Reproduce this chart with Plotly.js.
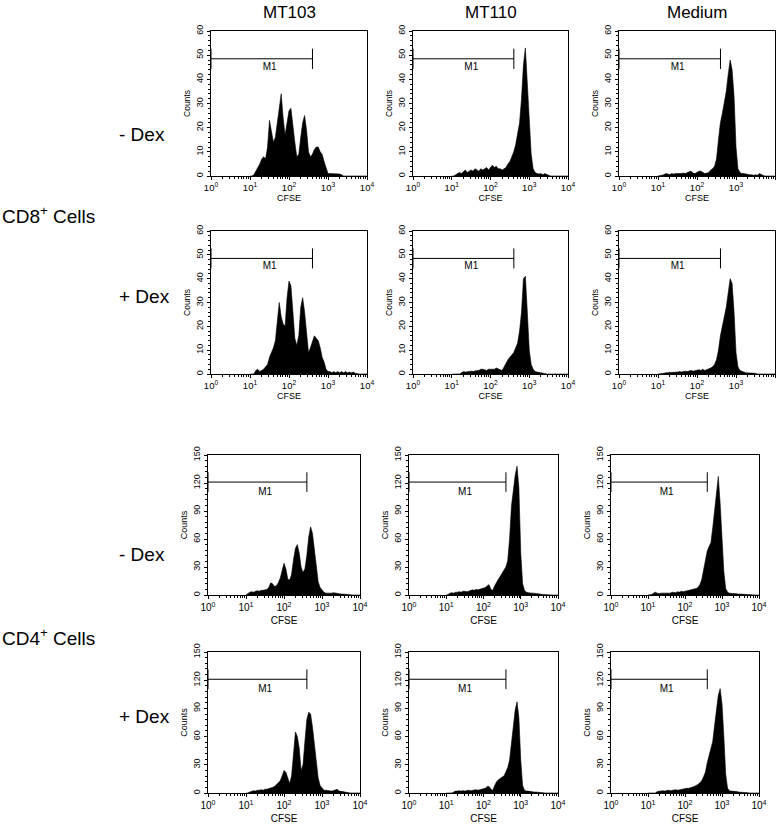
<!DOCTYPE html>
<html>
<head>
<meta charset="utf-8">
<script src="https://cdn.plot.ly/plotly-3.0.1.min.js"></script>
<style>html,body{margin:0;padding:0;background:#fff;}#chart{width:782px;height:827px;}</style>
</head>
<body>
<div id="chart"></div>
<script>
// ---------- DATA ----------
// CFSE channel values (log-spaced bins, 10^1 .. 10^4)
const cfse = [10, 11.2, 12.6, 14.1, 15.8, 17.8, 20.0, 22.4, 25.1, 28.2,
  31.6, 35.5, 39.8, 44.7, 50.1, 56.2, 63.1, 70.8, 79.4, 89.1,
  100, 112, 126, 141, 158, 178, 200, 224, 251, 282,
  316, 355, 398, 447, 501, 562, 631, 708, 794, 891,
  1000, 1122, 1259, 1413, 1585, 1778, 1995, 2239, 2512, 2818,
  3162, 3548, 3981, 4467, 5012, 5623, 6310, 7079, 7943, 8913,
  10000];

const columnNames = ['MT103', 'MT110', 'Medium'];
const rowNames = ['- Dex', '+ Dex', '- Dex', '+ Dex'];
const groupNames = ['CD8<sup>+</sup> Cells', 'CD4<sup>+</sup> Cells'];
const xTickVals = [1, 10, 100, 1000, 10000];
const xTickText = ['10<sup>0</sup>', '10<sup>1</sup>', '10<sup>2</sup>', '10<sup>3</sup>', '10<sup>4</sup>'];

// CD8+ cells, - Dex
const cd8MinusMT103 = [0,0,0.5,2,3,5,7,8,7,12,
  23,18,14,16,22,30,34,24,17,22,
  27,28,22,14,8,9,16,22,25,19,
  10,8,9,11,12,12,10,9,6,3,
  1,1,1,1,1,1,0.8,0.5,0,0,
  0,0,0,0,0,0,0,0,0,0,
  0];
const cd8MinusMT110 = [0,0,0.5,1,1.5,1,2,2.5,1.5,2,
  2.5,2,3,2.5,2,3,2.5,3,3.5,2.5,
  3.5,4.5,3.5,4,3,3,2.5,3,3.5,5,
  6,8,10,13,17,22,32,46,53,40,
  22,9,3,1.5,1,0.8,1,0.5,1,0.5,
  0.3,0,0,0,0,0,0,0,0,0,
  0];
const cd8MinusMedium = [0,0,0.3,0.5,1,0.8,0.6,1,0.8,1,
  0.9,1,1,1.2,1,1.5,1.8,2,1.2,1,
  1.5,2,2,1.5,1,1.2,1.5,2.5,3,4,
  7,15,22,26,30,35,42,48,44,33,
  12,3,1.5,1,1,0.8,0.5,0.5,0.5,0.3,
  0.5,0.3,1,0.5,0.2,0,0,0,0,0,
  0];
// CD8+ cells, + Dex
const cd8PlusMT103 = [0,0,0,1.5,2,1,1.5,2,3,4,
  7,9,11,14,22,30,24,21,20,32,
  39,37,26,15,12,16,28,32,26,18,
  9,11,14,16,15,14,11,7,5,2,
  1,1,0.5,1,0.5,1,0.5,1,0.5,1,
  0.5,0.8,0.5,0.8,0.3,0,0,0,0,0,
  0];
const cd8PlusMT110 = [0,0,0,0,0,0.5,1,0.8,1,1,
  1.2,1,1.3,1.5,1.5,2,2,1.8,1.5,2,
  2,2.2,2,2.5,2.3,1.8,1.5,3,5,6,
  7,8,9,11,13,18,26,40,41,26,
  10,4,2,1,0.8,0.5,0.5,0.3,0.2,0,
  0,0,0,0,0,0,0,0,0,0,
  0];
const cd8PlusMedium = [0,0,0,0.3,0.5,0.5,0.8,0.5,0.8,0.6,
  0.8,1,0.8,1,1.2,1,1.2,1.5,1.2,1.5,
  1.5,1.8,1.5,2,1.5,1.8,2,2.5,3,4,
  6,10,16,20,24,28,34,40,38,26,
  9,3,1.5,1,0.8,0.5,0.5,0.3,0.5,0.3,
  0.3,0,0,0,0,0,0,0,0,0,
  0];
// CD4+ cells, - Dex
const cd4MinusMT103 = [0,2,3,3.5,3,4,4.5,4,5,5,
  5.5,6,8,13,12,9,10,13,18,27,
  34,28,17,16,22,38,50,54,45,30,
  24,28,42,62,73,66,48,30,14,8,
  5,3,2,2,1.5,2,2.5,2,1.5,1.5,
  1,1,1,0.5,0.5,0.3,0,0,0,0,
  0];
const cd4MinusMT110 = [0,0.5,2,2.5,2,3,3,3.5,3,4,
  4,3.5,4,5,5.5,5,6,5.5,6,6.5,
  7,8,10,11,6,5,10,14,17,20,
  23,26,30,37,60,95,112,128,138,115,
  45,12,5,3,2.5,2,2,2,1.5,1.5,
  1,0.8,0.5,0.3,0,0,0,0,0,0,
  0];
const cd4MinusMedium = [0,0,0.5,2,3,2,1.5,2,2,2.5,
  2,2.5,2,3,3,2.5,3.5,3,4,3.5,
  4,4.5,5,5,6,6,7,8,11,16,
  26,38,47,52,56,72,90,115,127,98,
  60,25,7,3,2,1.5,1.5,1.5,1,1,
  1,0.8,0.5,0.5,0.3,0,0,0,0,0,
  0];
// CD4+ cells, + Dex
const cd4PlusMT103 = [0,0,1,2,2.5,2,3,3,3.5,3,
  4,4,4.5,5,6,7,9,10,13,18,
  24,22,16,10,18,38,65,60,48,24,
  30,55,78,86,84,70,52,34,16,8,
  5,3,3,2.5,2,2,2.5,3,4,2,
  2,1.5,1,0.5,0.3,0,0,0,0,0,
  0];
const cd4PlusMT110 = [0,0,0,0,1,2,2,2.5,2,2.5,
  2,2.5,3,2.5,3,3,3.5,3,3.5,4,
  4,5,7,7,4,3,8,12,14,16,
  17,18,22,27,35,52,70,88,97,80,
  35,8,3,2,2,1.5,1.5,1,1,1,
  0.8,0.5,0.3,0,0,0,0,0,0,0,
  0];
const cd4PlusMedium = [0,0,0,0,0,1.5,2,2,2.5,2,
  2.5,3,2.5,3,3,3.5,3,3.5,4,4,
  4.5,5,5,5.5,6,7,8,9,11,13,
  17,22,32,40,46,55,72,88,104,111,
  95,60,20,5,2.5,2,2,1.5,1.5,1,
  1,1,0.8,0.5,0.3,0,0,0,0,0,
  0];

// M1 gate marker
const m1Gate = [1, 400];
const m1LabelX = 32;
const cd8Gate = {level: 48.5, half: 4.2, label: 45};
const cd4Gate = {level: 121, half: 10.5, label: 110};

// ---------- LAYOUT GEOMETRY ----------
const W = 782, H = 827;
const FONT = 'Liberation Sans, Arial, Helvetica, sans-serif';
const panels = [
  {y: cd8MinusMT103, row: 0, col: 0}, {y: cd8MinusMT110, row: 0, col: 1}, {y: cd8MinusMedium, row: 0, col: 2},
  {y: cd8PlusMT103, row: 1, col: 0}, {y: cd8PlusMT110, row: 1, col: 1}, {y: cd8PlusMedium, row: 1, col: 2},
  {y: cd4MinusMT103, row: 2, col: 0}, {y: cd4MinusMT110, row: 2, col: 1}, {y: cd4MinusMedium, row: 2, col: 2},
  {y: cd4PlusMT103, row: 3, col: 0}, {y: cd4PlusMT110, row: 3, col: 1}, {y: cd4PlusMedium, row: 3, col: 2}
];
const colPxTop = [[211, 367], [413, 568], [619, 775]];
const colPxBot = [[208, 360], [409, 558], [611, 759]];
const rowPx = [[31, 176], [231, 374], [455, 595], [652, 793]];

const minorVals = [];
[1, 10, 100, 1000].forEach(d => { for (let m = 2; m <= 9; m++) minorVals.push(m * d); });

const traces = [];
const layout = {
  width: W, height: H,
  margin: {l: 0, r: 0, t: 0, b: 0},
  paper_bgcolor: '#fff', plot_bgcolor: '#fff',
  showlegend: false,
  font: {family: FONT, color: '#000'},
  annotations: []
};

panels.forEach((p, i) => {
  const n = i + 1;
  const xa = 'x' + (n === 1 ? '' : n), ya = 'y' + (n === 1 ? '' : n);
  const xk = 'xaxis' + (n === 1 ? '' : n), yk = 'yaxis' + (n === 1 ? '' : n);
  const isCD4 = p.row >= 2;
  const cx = (isCD4 ? colPxBot : colPxTop)[p.col];
  const ry = rowPx[p.row];
  const gate = isCD4 ? cd4Gate : cd8Gate;
  const ymax = isCD4 ? 150 : 60;
  const tickF = isCD4 ? 10 : 9.5;

  traces.push({
    x: cfse, y: p.y, xaxis: xa, yaxis: ya, type: 'scatter', mode: 'lines',
    line: {color: '#000', width: 0.6}, fill: 'tozeroy', fillcolor: '#000', hoverinfo: 'skip'
  });
  const g0 = m1Gate[0], g1 = m1Gate[1], L = gate.level, h = gate.half;
  traces.push({
    x: [g0, g0, null, g0, g1, null, g1, g1],
    y: [L - h, L + h, null, L, L, null, L - h, L + h],
    xaxis: xa, yaxis: ya, type: 'scatter', mode: 'lines',
    line: {color: '#000', width: 1}, hoverinfo: 'skip'
  });
  traces.push({
    x: [m1LabelX], y: [gate.label], text: ['M1'], xaxis: xa, yaxis: ya,
    type: 'scatter', mode: 'text', textposition: 'middle center',
    textfont: {family: FONT, size: 10, color: '#000'}, hoverinfo: 'skip', cliponaxis: false
  });

  layout[xk] = {
    domain: [cx[0] / W, cx[1] / W], anchor: ya, type: 'log', range: [0, 4],
    tickmode: 'array', tickvals: xTickVals, ticktext: xTickText,
    ticks: 'outside', ticklen: 3, tickwidth: 1, tickcolor: '#000',
    tickfont: {family: FONT, size: tickF, color: '#000'},
    minor: {tickmode: 'array', tickvals: minorVals, ticks: 'outside', ticklen: 2, tickwidth: 1, tickcolor: '#000', showgrid: false},
    showline: true, linecolor: '#000', linewidth: 1, mirror: true,
    showgrid: false, zeroline: false, fixedrange: true,
    title: {text: 'CFSE', font: {family: FONT, size: isCD4 ? 10 : 9, color: '#000'}, standoff: isCD4 ? 4 : 2}
  };
  layout[yk] = {
    domain: [1 - ry[1] / H, 1 - ry[0] / H], anchor: xa, range: [0, ymax],
    tickmode: 'linear', tick0: 0, dtick: isCD4 ? 30 : 10, tickangle: -90,
    ticks: 'outside', ticklen: 3, tickwidth: 1, tickcolor: '#000',
    tickfont: {family: FONT, size: 9, color: '#000'},
    minor: {dtick: isCD4 ? 6 : 2, ticks: 'outside', ticklen: 2, tickwidth: 1, tickcolor: '#000', showgrid: false},
    showline: true, linecolor: '#000', linewidth: 1, mirror: true,
    showgrid: false, zeroline: false, fixedrange: true,
    title: {text: 'Counts', font: {family: FONT, size: isCD4 ? 9 : 8.5, color: '#000'}, standoff: 3}
  };
});

// Column headers
columnNames.forEach((name, c) => {
  const cx = colPxTop[c];
  layout.annotations.push({
    text: name, xref: 'paper', yref: 'paper', x: (cx[0] + cx[1]) / 2 / W, y: 1 - 12 / H,
    xanchor: 'center', yanchor: 'middle', showarrow: false,
    font: {family: FONT, size: 17, color: '#000'}
  });
});
// Row labels
const rowLabelY = [134, 296, 554, 716];
rowNames.forEach((name, r) => {
  layout.annotations.push({
    text: name, xref: 'paper', yref: 'paper', x: 117 / W, y: 1 - rowLabelY[r] / H,
    xanchor: 'left', yanchor: 'middle', showarrow: false,
    font: {family: FONT, size: 19, color: '#000'}
  });
});
const groupLabelY = [215, 637];
groupNames.forEach((name, g) => {
  layout.annotations.push({
    text: name, xref: 'paper', yref: 'paper', x: 0, y: 1 - groupLabelY[g] / H,
    xanchor: 'left', yanchor: 'middle', showarrow: false,
    font: {family: FONT, size: 19, color: '#000'}
  });
});

Plotly.newPlot('chart', traces, layout, {staticPlot: true, displayModeBar: false});
</script>
</body>
</html>
